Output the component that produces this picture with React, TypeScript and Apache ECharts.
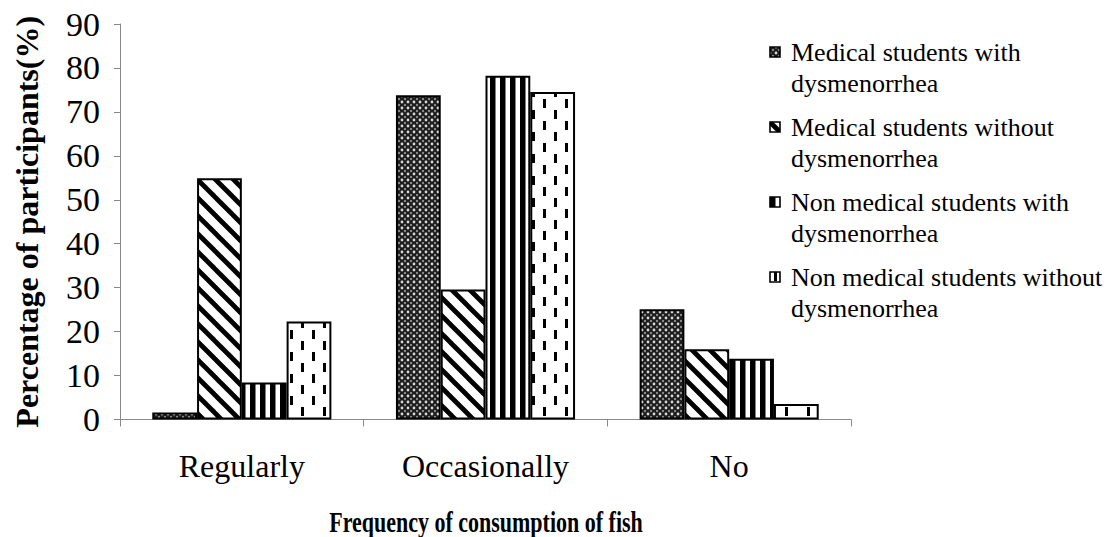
import React, { useEffect, useRef } from "react";
import * as echarts from "echarts";

const categories = ["Regularly", "Occasionally", "No"];
const seriesNames = [
  "Medical students with dysmenorrhea",
  "Medical students without dysmenorrhea",
  "Non medical students with dysmenorrhea",
  "Non medical students without dysmenorrhea",
];
const legendFirstLines = [
  "Medical students with",
  "Medical students without",
  "Non medical students with",
  "Non medical students without",
];
const legendSecondLines = ["dysmenorrhea", "dysmenorrhea", "dysmenorrhea", "dysmenorrhea"];
const medWith = [1.6, 73.8, 25.1];
const medWithout = [54.9, 29.6, 16.0];
const nonMedWith = [8.4, 78.2, 13.8];
const nonMedWithout = [22.3, 74.5, 3.5];
const yMin = 0;
const yMax = 90;
const yInterval = 10;
const xTitle = "Frequency of consumption of fish";
const yTitle = "Percentage of participants(%)";

const FONT = "'Liberation Serif', 'Times New Roman', serif";

function tile(w: number, h: number, draw: (c: CanvasRenderingContext2D) => void): string {
  const cv = document.createElement("canvas");
  cv.width = w;
  cv.height = h;
  const c = cv.getContext("2d")!;
  draw(c);
  return cv.toDataURL();
}

function makePatterns() {
  const p1 = tile(6, 6, (c) => {
    c.fillStyle = "#1c1c1c";
    c.fillRect(0, 0, 6, 6);
    c.fillStyle = "#d8d8d8";
    for (const [x, y] of [[0, 0], [6, 0], [0, 6], [6, 6]]) {
      c.beginPath();
      c.arc(x, y, 1.4, 0, Math.PI * 2);
      c.fill();
    }
    c.fillStyle = "#8a8a8a";
    c.beginPath();
    c.arc(3, 3, 1.2, 0, Math.PI * 2);
    c.fill();
  });
  const p2 = tile(18, 18, (c) => {
    c.fillStyle = "#fff";
    c.fillRect(0, 0, 18, 18);
    c.strokeStyle = "#000";
    c.lineWidth = 4.8;
    for (const dx of [-18, 0, 18]) {
      c.beginPath();
      c.moveTo(dx - 18, -18);
      c.lineTo(dx + 36, 36);
      c.stroke();
    }
  });
  const p3 = tile(10, 10, (c) => {
    c.fillStyle = "#fff";
    c.fillRect(0, 0, 10, 10);
    c.fillStyle = "#000";
    c.fillRect(0, 0, 5.5, 10);
  });
  const p4 = tile(22, 22, (c) => {
    c.fillStyle = "#fff";
    c.fillRect(0, 0, 22, 22);
    c.fillStyle = "#000";
    c.fillRect(4, 0, 3, 9);
    c.fillRect(15, 11, 3, 9);
  });
  return [p1, p2, p3, p4].map((img) => ({ image: img, repeat: "repeat" as const }));
}

export default function App() {
  const ref = useRef<HTMLDivElement>(null);
  useEffect(() => {
    if (!ref.current) return;
    document.body.style.margin = "0";
    const chart = echarts.init(ref.current, undefined, { renderer: "svg" });
    const patterns = makePatterns();
    const dataSets = [medWith, medWithout, nonMedWith, nonMedWithout];
    const axisGrey = "#898989";
    const graphics: any[] = [];
    seriesNames.forEach((_, i) => {
      graphics.push({
        type: "rect",
        x: 770,
        y: 47 + 75 * i,
        shape: { x: 0, y: 0, width: 10, height: 10 },
        style: { fill: patterns[i], stroke: "#000", lineWidth: 1.6 },
      });
      graphics.push({
        type: "text",
        x: 791,
        y: 52 + 75 * i,
        style: {
          text: legendFirstLines[i],
          fontFamily: FONT,
          fontSize: 26,
          fill: "#000",
          verticalAlign: "middle",
        },
      });
      graphics.push({
        type: "text",
        x: 791,
        y: 83 + 75 * i,
        style: {
          text: legendSecondLines[i],
          fontFamily: FONT,
          fontSize: 26,
          fill: "#000",
          verticalAlign: "middle",
        },
      });
    });
    graphics.push({
      type: "text",
      x: 486,
      y: 522,
      scaleY: 1.35,
      style: {
        text: xTitle,
        fontFamily: FONT,
        fontSize: 22,
        fontWeight: "bold",
        fill: "#000",
        align: "center",
        verticalAlign: "middle",
      },
    });
    chart.setOption({
      animation: false,
      backgroundColor: "#fff",
      textStyle: { fontFamily: FONT, color: "#000" },
      grid: { left: 120, top: 24, width: 731, height: 395.5, containLabel: false },
      graphic: graphics,
      xAxis: {
        type: "category",
        data: categories,
        axisLine: { lineStyle: { color: axisGrey, width: 1 } },
        axisTick: { show: true, length: 7, lineStyle: { color: axisGrey } },
        axisLabel: { fontFamily: FONT, fontSize: 32, color: "#000", margin: 30 },
        splitLine: { show: false },
      },
      yAxis: {
        type: "value",
        min: yMin,
        max: yMax,
        interval: yInterval,
        name: yTitle,
        nameLocation: "middle",
        nameGap: 77,
        nameTextStyle: { fontFamily: FONT, fontSize: 32, fontWeight: "bold", color: "#000" },
        axisLine: { show: true, lineStyle: { color: axisGrey, width: 1 } },
        axisTick: { show: true, length: 6, lineStyle: { color: axisGrey } },
        axisLabel: { fontFamily: FONT, fontSize: 34, color: "#000", margin: 20 },
        splitLine: { show: false },
      },
      series: dataSets.map((d, i) => ({
        name: seriesNames[i],
        type: "bar",
        data: d,
        barGap: "0%",
        barCategoryGap: "26.5%",
        itemStyle: { color: patterns[i], borderColor: "#000", borderWidth: 2 },
      })),
    });
    return () => chart.dispose();
  }, []);
  return <div ref={ref} style={{ width: 1114, height: 537 }} />;
}
